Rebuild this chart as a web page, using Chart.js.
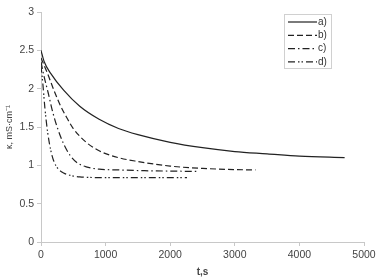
<!DOCTYPE html>
<html>
<head>
<meta charset="utf-8">
<script src="https://cdn.jsdelivr.net/npm/chart.js@4"></script>
<style>
  html, body { margin: 0; padding: 0; background: #fff; }
  #wrap { width: 380px; height: 280px; }
</style>
</head>
<body>
<div id="wrap"><canvas id="kappaChart"></canvas></div>
<script>
// readings (t in s, kappa in mS/cm)
const tA = [0, 50, 150, 350, 600, 900, 1200, 1500, 2000, 2500, 3000, 3500, 4000, 4700];
const kA = [2.5, 2.35, 2.2, 1.98, 1.77, 1.6, 1.48, 1.4, 1.3, 1.23, 1.18, 1.15, 1.12, 1.1];

const tB = [0, 100, 200, 300, 400, 500, 700, 900, 1200, 1500, 2000, 2500, 3000, 3320];
const kB = [2.4, 2.2, 1.98, 1.78, 1.62, 1.48, 1.3, 1.19, 1.1, 1.05, 0.99, 0.96, 0.945, 0.94];

const tC = [0, 50, 110, 180, 250, 350, 450, 550, 700, 900, 1200, 1600, 2000, 2450];
const kC = [2.35, 2.15, 1.95, 1.7, 1.5, 1.28, 1.13, 1.04, 0.98, 0.95, 0.94, 0.93, 0.925, 0.92];

const tD = [0, 30, 60, 100, 150, 200, 260, 350, 450, 600, 1000, 1500, 2260];
const kD = [2.3, 2.05, 1.75, 1.45, 1.2, 1.05, 0.96, 0.9, 0.87, 0.85, 0.84, 0.84, 0.84];

const seriesLabels = ['a)', 'b)', 'c)', 'd)'];
const xTicks = [0, 1000, 2000, 3000, 4000, 5000];
const yTicks = [0, 0.5, 1, 1.5, 2, 2.5, 3];

const dashes = [[], [6, 3], [7, 3, 1.5, 3], [7, 3, 1.5, 2, 1.5, 3]];

function pts(ts, ks) {
  return ts.map((t, i) => ({ x: t, y: ks[i] }));
}

const allData = [pts(tA, kA), pts(tB, kB), pts(tC, kC), pts(tD, kD)];

// small boxed legend inside the plot, like the original
const boxLegend = {
  id: 'boxLegend',
  afterDraw(chart) {
    const c = chart.ctx;
    const x0 = 284, y0 = 14, w = 47, h = 54;
    c.save();
    c.strokeStyle = '#d0d0d0';
    c.lineWidth = 1;
    c.strokeRect(x0 + 0.5, y0 + 0.5, w, h);
    c.font = '10px "Liberation Sans", Arial, sans-serif';
    c.fillStyle = '#333';
    c.textBaseline = 'middle';
    chart.data.datasets.forEach((ds, i) => {
      const y = y0 + 8 + i * 13.3;
      c.strokeStyle = '#222';
      c.lineWidth = 1.2;
      c.setLineDash(ds.borderDash || []);
      c.beginPath();
      c.moveTo(x0 + 4, y);
      c.lineTo(x0 + 33, y);
      c.stroke();
      c.setLineDash([]);
      c.fillText(ds.label, x0 + 34, y);
    });
    c.restore();
  }
};

const tickFont = { family: '"Liberation Sans", Arial, sans-serif', size: 10.5 };

new Chart(document.getElementById('kappaChart'), {
  type: 'line',
  data: {
    datasets: allData.map((d, i) => ({
      label: seriesLabels[i],
      data: d,
      borderColor: '#222',
      borderWidth: 1.2,
      borderDash: dashes[i],
      pointRadius: 0,
      cubicInterpolationMode: 'monotone',
      fill: false
    }))
  },
  options: {
    responsive: true,
    maintainAspectRatio: false,
    animation: false,
    layout: { padding: { top: 12, right: 16, bottom: 0, left: 0 } },
    scales: {
      x: {
        type: 'linear',
        min: 0,
        max: 5000,
        afterBuildTicks: s => { s.ticks = xTicks.map(v => ({ value: v })); },
        afterFit: s => { s.height = 38; },
        ticks: {
          color: '#444',
          padding: 3,
          maxRotation: 0,
          font: tickFont,
          callback: v => String(v)
        },
        grid: { display: true, drawOnChartArea: false, drawTicks: true, tickLength: 4, color: '#c8c8c8' },
        border: { color: '#c8c8c8' },
        title: {
          display: true,
          text: 't,s',
          color: '#444',
          padding: { top: 0, bottom: 2 },
          font: { family: '"Liberation Sans", Arial, sans-serif', size: 10, weight: 'bold' }
        }
      },
      y: {
        min: 0,
        max: 3,
        afterBuildTicks: s => { s.ticks = yTicks.map(v => ({ value: v })); },
        afterFit: s => { s.width = 41; },
        ticks: {
          color: '#444',
          padding: 3,
          font: tickFont,
          callback: v => String(v)
        },
        grid: { display: true, drawOnChartArea: false, drawTicks: true, tickLength: 4, color: '#c8c8c8' },
        border: { color: '#c8c8c8' },
        title: {
          display: true,
          text: 'κ, mS·cm⁻¹',
          color: '#444',
          padding: { top: 4, bottom: 0 },
          font: { family: '"Liberation Sans", Arial, sans-serif', size: 9 }
        }
      }
    },
    plugins: {
      legend: { display: false },
      tooltip: { enabled: false }
    }
  },
  plugins: [boxLegend]
});
</script>
</body>
</html>
